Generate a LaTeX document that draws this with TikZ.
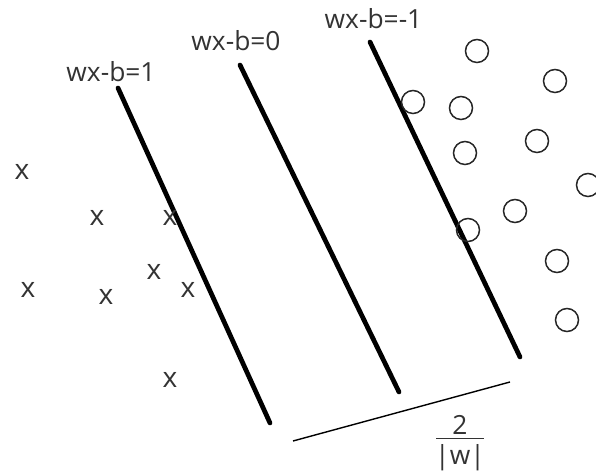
\documentclass[tikz,border=0pt]{standalone}
\usepackage{fontspec}
\setmainfont{Open Sans}
\usepackage{amsmath}
\tikzset{
	margin/.style={line width=2.7pt,line cap=round},
	lab/.style={inner sep=0pt,text=black!80,font=\fontsize{15pt}{17pt}\selectfont},
	xmark/.style={inner sep=0pt,text=black!80,font=\fontsize{16pt}{18pt}\selectfont},
	pt/.style={line width=0.85pt,draw=black!85}
}
\begin{document}
\begin{tikzpicture}
		\useasboundingbox (0,0) rectangle (11.92,9.5);
		% the three lines
		\draw[margin] (2.36,7.74)coordinate (A1) -- (5.40,1.04)coordinate (B1);
		\draw[margin] (4.80,8.20)coordinate (A2) -- (7.98,1.66)coordinate (B2);
		\draw[margin] (7.40,8.66)coordinate (A3) -- (10.40,2.36)coordinate (B3);
		\node[lab] (L1) at (2.22,8.07) {wx-b=1};
		\node[lab] (L2) at (4.72,8.68) {wx-b=0};
		\node[lab] (L3) at (7.47,9.13) {wx-b=-1};
		% width of the margin
		\draw[line width=0.8pt] (5.86,0.68)coordinate (M1) -- (10.20,1.86)coordinate (M2);
		\node[lab,anchor=base] (W) at (9.20,0.61) {$\genfrac{}{}{0.7pt}{1}{\mbox{2}}{\mbox{\makebox[0.95cm]{\rule{0pt}{14pt}|w|}}}$};
		% class x
		\node[xmark] (x1) at (0.44,6.06) {x};
		\node[xmark] (x2) at (1.94,5.14) {x};
		\node[xmark] (x3) at (3.40,5.14) {x};
		\node[xmark] (x4) at (0.56,3.70) {x};
		\node[xmark] (x5) at (2.12,3.56) {x};
		\node[xmark] (x6) at (3.08,4.06) {x};
		\node[xmark] (x7) at (3.76,3.70) {x};
		\node[xmark] (x8) at (3.40,1.90) {x};
		% class o
		\draw[pt] (9.54,8.48) circle (0.23);
		\draw[pt] (11.10,7.88) circle (0.23);
		\draw[pt] (8.26,7.46) circle (0.23);
		\draw[pt] (9.22,7.34) circle (0.23);
		\draw[pt] (10.74,6.68) circle (0.23);
		\draw[pt] (9.30,6.44) circle (0.23);
		\draw[pt] (11.76,5.80) circle (0.23);
		\draw[pt] (10.30,5.28) circle (0.23);
		\draw[pt] (9.36,4.90) circle (0.23);
		\draw[pt] (11.14,4.28) circle (0.23);
		\draw[pt] (11.34,3.10) circle (0.23);
	\end{tikzpicture}
\end{document}
